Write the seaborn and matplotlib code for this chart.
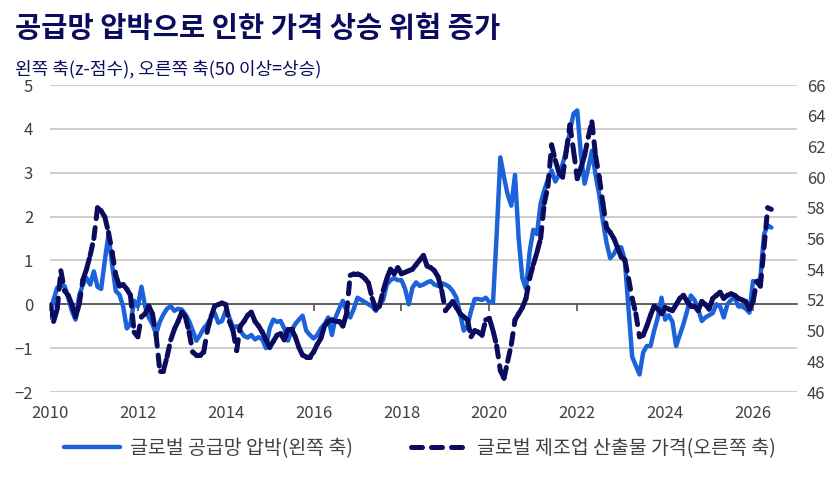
import numpy as np
import pandas as pd
import matplotlib
matplotlib.use("Agg")
import matplotlib.pyplot as plt
from matplotlib.collections import LineCollection
from matplotlib.lines import Line2D
import seaborn as sns

# Monthly data, Jan 2010 - Jun 2026
start_month = "2010-01-01"

# Global supply chain pressure (left axis, z-score)
pressure = [
    -0.31, 0.1, 0.38, 0.42, 0.42, 0.15, -0.15, -0.35, 0.2, 0.45, 0.6, 0.45,      # 2010
    0.75, 0.4, 0.35, 1.0, 1.6, 0.9, 0.3, 0.22, -0.05, -0.55, -0.45, 0.08,        # 2011
    -0.05, 0.4, -0.05, -0.3, -0.45, -0.68, -0.4, -0.23, -0.1, -0.04, -0.15, -0.1, # 2012
    -0.12, -0.23, -0.38, -0.6, -0.83, -0.7, -0.55, -0.45, -0.3, -0.2, -0.42, -0.38, # 2013
    -0.15, -0.3, -0.53, -0.5, -0.6, -0.72, -0.76, -0.7, -0.8, -0.75, -0.8, -1.0,  # 2014
    -0.55, -0.35, -0.4, -0.38, -0.55, -0.83, -0.6, -0.45, -0.35, -0.26, -0.6, -0.7, # 2015
    -0.78, -0.7, -0.55, -0.45, -0.3, -0.7, -0.3, -0.1, 0.08, -0.15, -0.3, -0.1,  # 2016
    0.15, 0.1, 0.05, 0.0, -0.05, -0.15, 0.0, 0.1, 0.45, 0.55, 0.6, 0.55,         # 2017
    0.55, 0.35, 0.0, 0.38, 0.5, 0.42, 0.45, 0.5, 0.53, 0.45, 0.42, 0.48,         # 2018
    0.45, 0.4, 0.3, 0.15, -0.2, -0.6, -0.5, -0.15, 0.12, 0.12, 0.1, 0.15,        # 2019
    0.05, 0.05, 1.6, 3.35, 2.9, 2.5, 2.25, 2.95, 1.5, 0.6, 0.35, 1.2,            # 2020
    1.7, 1.6, 2.3, 2.6, 2.85, 3.05, 2.8, 2.95, 3.2, 3.5, 3.95, 4.35,             # 2021
    4.42, 3.4, 2.75, 3.1, 3.5, 2.95, 2.5, 1.9, 1.4, 1.05, 1.15, 1.3,             # 2022
    1.3, 1.0, -0.1, -1.2, -1.4, -1.6, -1.1, -0.95, -0.95, -0.6, -0.3, 0.15,      # 2023
    -0.35, -0.25, -0.4, -0.95, -0.7, -0.45, -0.15, 0.2, 0.1, -0.1, -0.38, -0.3,  # 2024
    -0.25, -0.2, 0.0, -0.05, -0.3, 0.0, 0.1, 0.15, -0.05, -0.05, -0.1, -0.19,    # 2025
    0.53, 0.5, 0.6, 1.6, 1.8, 1.75,                                              # 2026
]

# Global manufacturing output prices (right axis, 50+ = rising)
prices = [
    51.7, 50.6, 51.4, 53.9, 52.6, 52.3, 51.7, 50.9, 51.7, 53.3, 54.0, 54.9,  # 2010
    56.0, 58.0, 57.8, 57.4, 56.4, 55.1, 53.6, 52.9, 53.0, 52.7, 52.3, 49.9,  # 2011
    49.6, 50.9, 51.1, 51.6, 51.1, 49.7, 47.4, 47.4, 48.3, 49.4, 50.1, 50.6,  # 2012
    51.2, 50.9, 49.9, 48.6, 48.4, 48.4, 48.6, 50.0, 50.9, 51.6, 51.7, 51.8,  # 2013
    51.7, 50.6, 50.0, 48.7, 50.3, 50.6, 51.0, 51.2, 50.6, 50.3, 49.9, 49.4,  # 2014
    48.9, 49.3, 49.7, 49.8, 49.4, 50.1, 50.1, 49.6, 48.9, 48.4, 48.3, 48.3,  # 2015
    48.6, 49.1, 49.5, 50.3, 50.6, 50.7, 50.6, 50.6, 50.3, 51.1, 53.6, 53.7,  # 2016
    53.7, 53.6, 53.4, 53.1, 52.1, 51.4, 51.6, 52.6, 53.4, 54.0, 53.7, 54.1,  # 2017
    53.7, 53.8, 53.9, 54.0, 54.3, 54.6, 54.9, 54.2, 54.1, 53.9, 53.5, 52.6,  # 2018
    51.3, 51.6, 51.9, 51.5, 51.1, 50.9, 50.7, 49.6, 50.0, 49.9, 49.7, 50.7,  # 2019
    50.8, 50.0, 49.0, 47.4, 46.9, 48.0, 49.1, 50.7, 51.1, 51.5, 52.1, 53.4,  # 2020
    54.3, 55.1, 56.0, 58.3, 59.4, 62.1, 61.1, 60.3, 60.0, 61.7, 63.4, 61.7,  # 2021
    59.9, 60.6, 61.4, 62.6, 63.6, 61.4, 60.0, 58.3, 56.7, 56.4, 56.0, 55.4,  # 2022
    54.8, 54.6, 53.4, 52.1, 51.1, 49.6, 49.7, 50.3, 51.0, 51.6, 51.4, 51.1,  # 2023
    51.5, 51.4, 51.3, 51.7, 52.1, 52.3, 51.9, 51.6, 51.6, 51.3, 51.9, 51.7,  # 2024
    51.4, 52.1, 52.3, 52.5, 52.1, 52.3, 52.4, 52.3, 52.1, 52.0, 51.9, 51.4,  # 2025
    51.9, 53.2, 52.9, 55.4, 58.0, 57.9,                                      # 2026
]

year_ticks = list(range(2010, 2027, 2))
left_ticks = list(range(-2, 6))
right_ticks = list(range(46, 67, 2))

title = "공급망 압박으로 인한 가격 상승 위험 증가"
subtitle = "왼쪽 축(z-점수), 오른쪽 축(50 이상=상승)"
label_pressure = "글로벌 공급망 압박(왼쪽 축)"
label_prices = "글로벌 제조업 산출물 가격(오른쪽 축)"

blue = "#1c63d9"
navy = "#0c0c5e"
grey_text = "#404040"

sns.set_theme(style="white")
plt.rcParams["font.family"] = ["Noto Sans CJK KR", "DejaVu Sans"]

dates = pd.date_range(start_month, periods=len(pressure), freq="MS")
t = (dates.year + (dates.month - 1) / 12).to_numpy()

fig = plt.figure(figsize=(8.4, 4.82), dpi=100)
ax = fig.add_axes([0.0594, 0.1867, 0.8894, 0.6369])
ax2 = ax.twinx()

# left series
sns.lineplot(x=t, y=pressure, ax=ax, color=blue, linewidth=3.2, zorder=3)

# right series: dashes restart on each monthly segment, like the original
pts = np.column_stack([t, prices])
segs = np.stack([pts[:-1], pts[1:]], axis=1)
lc = LineCollection(segs, colors=navy, linewidths=3.6,
                    linestyles=[(0, (2.2, 1.8))], capstyle="round")
ax2.add_collection(lc)

ax.set_xlim(2010, 2027)
ax.set_ylim(-2, 5)
ax2.set_ylim(46, 66)

ax.set_yticks(left_ticks)
ax.yaxis.grid(True, color="#c0c0c0", linewidth=1.1)
ax.xaxis.grid(False)
ax.set_axisbelow(True)
ax.tick_params(axis="y", length=0, pad=12, labelsize=12, labelcolor=grey_text)

ax2.set_yticks(right_ticks)
ax2.tick_params(axis="y", length=0, pad=7, labelsize=12, labelcolor=grey_text)

# zero line with year tick marks, labels below the plot
for s in ["top", "left", "right"]:
    ax.spines[s].set_visible(False)
    ax2.spines[s].set_visible(False)
ax2.spines["bottom"].set_visible(False)
ax.spines["bottom"].set_position(("data", 0))
ax.spines["bottom"].set_color(grey_text)
ax.spines["bottom"].set_linewidth(1.1)
ax.set_xticks(year_ticks)
ax.tick_params(axis="x", bottom=True, length=5, width=1.1, color=grey_text,
               direction="out", labelbottom=False)

sec = ax.secondary_xaxis("bottom")
sec.set_xticks(year_ticks)
sec.tick_params(length=0, pad=9, labelsize=12, labelcolor=grey_text)
sec.spines["bottom"].set_visible(False)

fig.text(0.018, 0.94, title, fontsize=20.5, fontweight="bold", color=navy, va="center")
fig.text(0.018, 0.856, subtitle, fontsize=13, color=navy, va="center")

handles = [
    Line2D([], [], color=blue, linewidth=3.2),
    Line2D([], [], color=navy, linewidth=3.6, linestyle=(0, (2.2, 1.8)),
           dash_capstyle="round"),
]
fig.legend(handles, [label_pressure, label_prices], loc="center",
           bbox_to_anchor=(0.5, 0.07), ncol=2, frameon=False, fontsize=14,
           handlelength=2.9, handletextpad=0.5, columnspacing=3.0,
           labelcolor=grey_text)

fig.savefig("out.png", dpi=100)
